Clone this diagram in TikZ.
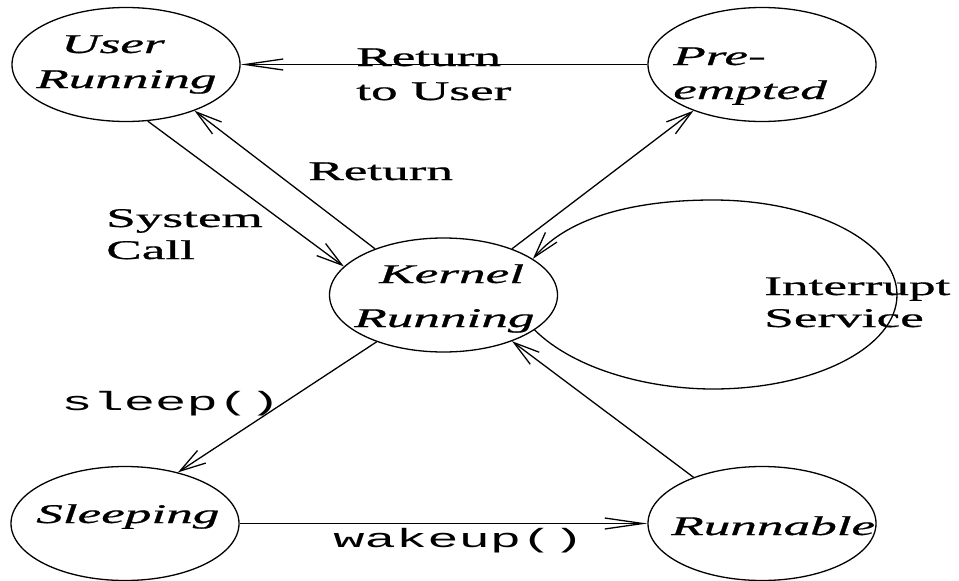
\documentclass[tikz,border=0pt]{standalone}
\usepackage{fontspec}
\setmainfont{Liberation Serif}[FakeBold=0.6]
\setmonofont{Liberation Mono}
\usetikzlibrary{arrows.meta,shapes.geometric}
\tikzset{
  state/.style={ellipse, draw, minimum width=228pt, minimum height=114pt, inner sep=0pt},
  itext/.style={font=\rmfamily\itshape\fontsize{27}{35}\selectfont, inner sep=0pt, align=left, anchor=base west, xscale=1.97, transform shape},
  ptext/.style={font=\rmfamily\fontsize{27}{32}\selectfont, inner sep=0pt, align=left, anchor=base west, xscale=1.97, transform shape},
  ctext/.style={font=\ttfamily\fontsize{26.5}{32}\selectfont, inner sep=0pt, anchor=base west, xscale=1.97, transform shape},
  diag/.style={-{Straight Barb[length=26pt,width=15pt]}},
  horz/.style={-{Straight Barb[length=38pt,width=11pt]}}
}
\begin{document}
\begin{tikzpicture}[x=1pt, y=-1pt, line width=1.3pt]
\useasboundingbox[fill=white] (0,0) rectangle (959,581);
% states
\node[state] (user)   at (126,64.5)  {};
\node[state] (pre)    at (762,64.5)  {};
\node[state] (kernel) at (443.5,295) {};
\node[state] (sleep)  at (125,523.5) {};
\node[state] (run)    at (762,523.5) {};
% state labels (base anchor = baseline of the last line)
\node[itext] (userlbl)   at (35,88)   {\hspace*{12.7pt}User\\Running};
\node[itext] (prelbl)    at (672,99)  {Pre-\\[-1pt]empted};
\node[itext] (kernellbl) at (353,327) {\hspace*{12.7pt}Kernel\\[9pt]Running};
\node[itext] (sleeplbl)  at (35,523)  {Sleeping};
\node[itext] (runlbl)    at (670,535) {Runnable};
% transition labels
\node[ptext] (rtu)   at (355,100) {Return\\[2pt]to User};
\node[ptext] (ret)   at (307,180) {Return};
\node[ptext] (sys)   at (105,259) {System\\Call};
\node[ptext] (intr)  at (763,327) {Interrupt\\Service};
\node[ctext] (slp)   at (60,410)  {sleep()};
\node[ctext] (wake)  at (332,547) {wakeup()};
% transitions
\draw[horz] (pre.west) -- (user.east);
\draw[diag] (user.-69) -- (kernel.164);
\draw[diag] (kernel.146) -- (user.-34);
\draw[diag] (kernel.34.5) -- (pre.-146);
\draw[diag] (kernel.-145.5) -- (sleep.44);
\draw[horz] (sleep.east) -- (run.west);
\draw[diag] (run.146) -- (kernel.-34);
\draw[diag] (kernel.-21) .. controls (575,370) and (650,389) .. (713,389)
  .. controls (815,389) and (897,347) .. (897,295)
  .. controls (897,243) and (815,200) .. (713,200)
  .. controls (640,200) and (570,215) .. (kernel.22);
\end{tikzpicture}
\end{document}
